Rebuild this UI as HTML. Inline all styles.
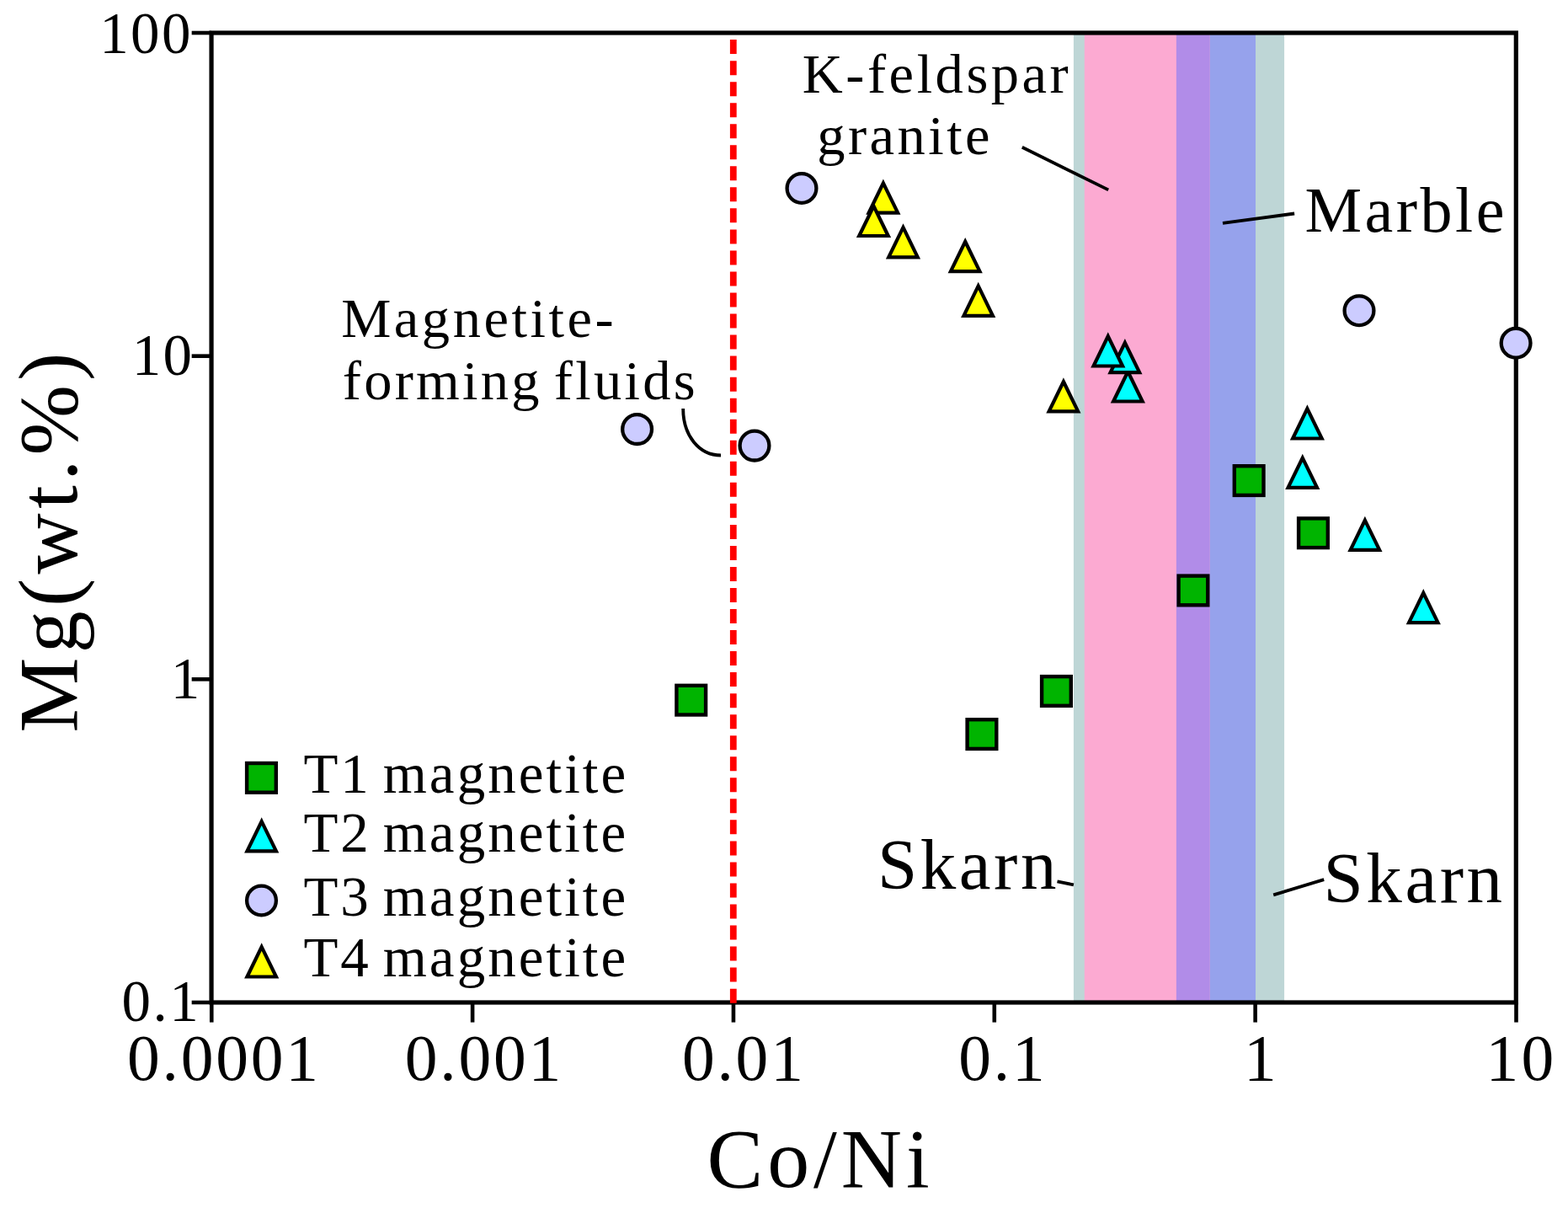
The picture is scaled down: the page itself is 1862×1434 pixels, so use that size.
<!DOCTYPE html>
<html lang="en">
<head>
<meta charset="utf-8">
<title>Mg (wt.%) vs Co/Ni</title>
<style>
html,body{margin:0;padding:0;background:#fff;}
body{width:1862px;height:1434px;overflow:hidden;}
svg{display:block;}
text{font-family:"Liberation Serif",serif;fill:#000;white-space:pre;}
</style>
</head>
<body>
<svg width="1862" height="1434" viewBox="0 0 1862 1434">
<rect width="1862" height="1434" fill="#fff"/>

<g>
<rect x="1274.9" y="39.0" width="250.2" height="1151.0" fill="#bed6d6"/>
<rect x="1287.8" y="39.0" width="148.9" height="1151.0" fill="#fcaad2"/>
<rect x="1436.7" y="39.0" width="54.3" height="1151.0" fill="#96a2ec"/>
<rect x="1396.9" y="39.0" width="39.8" height="1151.0" fill="#b18ce8"/>
</g>
<g stroke="#000" fill="none" stroke-linecap="butt">
<rect x="251.06" y="39.0" width="1549.24" height="1151.00" stroke-width="5.2"/>
<line x1="227.66" y1="39.00" x2="251.06" y2="39.00" stroke-width="4.6"/>
<line x1="227.66" y1="422.67" x2="251.06" y2="422.67" stroke-width="4.6"/>
<line x1="227.66" y1="806.33" x2="251.06" y2="806.33" stroke-width="4.6"/>
<line x1="227.66" y1="1190.00" x2="251.06" y2="1190.00" stroke-width="4.6"/>
<line x1="251.26" y1="1190.0" x2="251.26" y2="1213.60" stroke-width="4.6"/>
<line x1="561.11" y1="1190.0" x2="561.11" y2="1213.60" stroke-width="4.6"/>
<line x1="870.96" y1="1190.0" x2="870.96" y2="1213.60" stroke-width="4.6"/>
<line x1="1180.80" y1="1190.0" x2="1180.80" y2="1213.60" stroke-width="4.6"/>
<line x1="1490.65" y1="1190.0" x2="1490.65" y2="1213.60" stroke-width="4.6"/>
<line x1="1800.50" y1="1190.0" x2="1800.50" y2="1213.60" stroke-width="4.6"/>
</g>
<line x1="870.8" y1="41.0" x2="870.8" y2="1191.0" stroke="#ff0000" stroke-width="7.8" stroke-dasharray="17 8.034" stroke-dashoffset="-6.1"/>
<text x="118.15" y="62.60" font-size="69" letter-spacing="2.40" >100</text>
<text x="156.65" y="445.30" font-size="69" letter-spacing="2.40" >10</text>
<text x="202.70" y="828.90" font-size="69" letter-spacing="0.00" >1</text>
<text x="144.40" y="1211.70" font-size="69" letter-spacing="2.50" >0.1</text>
<text x="151.00" y="1282.30" font-size="77.5" letter-spacing="2.80" >0.0001</text>
<text x="480.70" y="1282.30" font-size="77.5" letter-spacing="2.80" >0.001</text>
<text x="809.90" y="1282.30" font-size="77.5" letter-spacing="2.80" >0.01</text>
<text x="1138.27" y="1282.30" font-size="77.5" letter-spacing="2.80" >0.1</text>
<text x="1476.98" y="1282.30" font-size="77.5" letter-spacing="0.00" >1</text>
<text x="1764.50" y="1282.30" font-size="77.5" letter-spacing="3.20" >10</text>
<text x="839.50" y="1409.40" font-size="100" letter-spacing="4.96" >Co/Ni</text>
<text transform="translate(91 869.48) rotate(-90)" font-size="100" letter-spacing="5.28">Mg(wt.%)</text>
<text x="952.78" y="110.20" font-size="66.5" letter-spacing="3.51" >K-feldspar</text>
<text x="970.34" y="183.00" font-size="66.5" letter-spacing="3.44" >granite</text>
<text x="1549.51" y="274.80" font-size="76" letter-spacing="3.49" >Marble</text>
<text x="405.18" y="400.30" font-size="66.5" letter-spacing="3.52" >Magnetite-</text>
<text x="406.75" y="473.80" font-size="66.5" letter-spacing="3.27" word-spacing="-6">forming fluids</text>
<text x="1041.91" y="1055.30" font-size="85" letter-spacing="3.57" >Skarn</text>
<text x="1571.51" y="1071.40" font-size="85" letter-spacing="3.57" >Skarn</text>
<g stroke="#000" stroke-width="3.8" fill="none" stroke-linecap="butt">
<line x1="1213.8" y1="174.7" x2="1316.2" y2="225.4"/>
<line x1="1452" y1="264.9" x2="1537.1" y2="253.5"/>
<line x1="1255.5" y1="1046.3" x2="1274.9" y2="1050.4"/>
<line x1="1512.2" y1="1062.4" x2="1572.2" y2="1044.1"/>
<path d="M811.2 485 C 811.2 517, 830 540.5, 856 540.5"/>
</g>
<rect x="803.4" y="813.8" width="34.7" height="34.7" fill="#00b400" stroke="#000" stroke-width="4.4"/>
<rect x="1148.6" y="854.2" width="34.7" height="34.7" fill="#00b400" stroke="#000" stroke-width="4.4"/>
<rect x="1237.1" y="803.1" width="34.7" height="34.7" fill="#00b400" stroke="#000" stroke-width="4.4"/>
<rect x="1399.6" y="683.6" width="34.7" height="34.7" fill="#00b400" stroke="#000" stroke-width="4.4"/>
<rect x="1465.8" y="553.2" width="34.7" height="34.7" fill="#00b400" stroke="#000" stroke-width="4.4"/>
<rect x="1542.1" y="615.4" width="34.7" height="34.7" fill="#00b400" stroke="#000" stroke-width="4.4"/>
<circle cx="952.0" cy="223.5" r="17.4" fill="#ccccff" stroke="#000" stroke-width="4.3"/>
<circle cx="756.6" cy="509.6" r="17.4" fill="#ccccff" stroke="#000" stroke-width="4.3"/>
<circle cx="896.0" cy="529.1" r="17.4" fill="#ccccff" stroke="#000" stroke-width="4.3"/>
<circle cx="1614.0" cy="368.7" r="17.4" fill="#ccccff" stroke="#000" stroke-width="4.3"/>
<circle cx="1800.1" cy="407.3" r="17.4" fill="#ccccff" stroke="#000" stroke-width="4.3"/>
<path d="M1048.90 217.35L1066.15 252.70L1031.65 252.70Z" fill="#ffff00" stroke="#000" stroke-width="4.2" stroke-linejoin="miter" stroke-miterlimit="10"/>
<path d="M1037.50 244.65L1054.75 280.00L1020.25 280.00Z" fill="#ffff00" stroke="#000" stroke-width="4.2" stroke-linejoin="miter" stroke-miterlimit="10"/>
<path d="M1072.50 269.95L1089.75 305.30L1055.25 305.30Z" fill="#ffff00" stroke="#000" stroke-width="4.2" stroke-linejoin="miter" stroke-miterlimit="10"/>
<path d="M1146.20 286.75L1163.45 322.10L1128.95 322.10Z" fill="#ffff00" stroke="#000" stroke-width="4.2" stroke-linejoin="miter" stroke-miterlimit="10"/>
<path d="M1161.70 339.45L1178.95 374.80L1144.45 374.80Z" fill="#ffff00" stroke="#000" stroke-width="4.2" stroke-linejoin="miter" stroke-miterlimit="10"/>
<path d="M1262.90 453.00L1280.15 488.35L1245.65 488.35Z" fill="#ffff00" stroke="#000" stroke-width="4.2" stroke-linejoin="miter" stroke-miterlimit="10"/>
<path d="M1339.40 441.15L1356.65 476.50L1322.15 476.50Z" fill="#00ffff" stroke="#000" stroke-width="4.2" stroke-linejoin="miter" stroke-miterlimit="10"/>
<path d="M1335.90 406.85L1353.15 442.20L1318.65 442.20Z" fill="#00ffff" stroke="#000" stroke-width="4.2" stroke-linejoin="miter" stroke-miterlimit="10"/>
<path d="M1315.80 399.15L1333.05 434.50L1298.55 434.50Z" fill="#00ffff" stroke="#000" stroke-width="4.2" stroke-linejoin="miter" stroke-miterlimit="10"/>
<path d="M1552.40 485.15L1569.65 520.50L1535.15 520.50Z" fill="#00ffff" stroke="#000" stroke-width="4.2" stroke-linejoin="miter" stroke-miterlimit="10"/>
<path d="M1546.80 543.55L1564.05 578.90L1529.55 578.90Z" fill="#00ffff" stroke="#000" stroke-width="4.2" stroke-linejoin="miter" stroke-miterlimit="10"/>
<path d="M1620.90 617.55L1638.15 652.90L1603.65 652.90Z" fill="#00ffff" stroke="#000" stroke-width="4.2" stroke-linejoin="miter" stroke-miterlimit="10"/>
<path d="M1690.30 703.85L1707.55 739.20L1673.05 739.20Z" fill="#00ffff" stroke="#000" stroke-width="4.2" stroke-linejoin="miter" stroke-miterlimit="10"/>
<rect x="293.1" y="906.0" width="34.7" height="34.7" fill="#00b400" stroke="#000" stroke-width="4.4"/>
<path d="M310.70 975.05L327.95 1010.40L293.45 1010.40Z" fill="#00ffff" stroke="#000" stroke-width="4.2" stroke-linejoin="miter" stroke-miterlimit="10"/>
<circle cx="310.5" cy="1069.0" r="17.4" fill="#ccccff" stroke="#000" stroke-width="4.3"/>
<path d="M310.70 1124.15L327.95 1159.50L293.45 1159.50Z" fill="#ffff00" stroke="#000" stroke-width="4.2" stroke-linejoin="miter" stroke-miterlimit="10"/>
<text x="360.39" y="940.60" font-size="67" letter-spacing="3.05" word-spacing="-6">T1 magnetite</text>
<text x="360.39" y="1011.40" font-size="67" letter-spacing="3.05" word-spacing="-6">T2 magnetite</text>
<text x="360.39" y="1087.40" font-size="67" letter-spacing="3.05" word-spacing="-6">T3 magnetite</text>
<text x="360.39" y="1159.10" font-size="67" letter-spacing="3.05" word-spacing="-6">T4 magnetite</text>
</svg>
</body>
</html>
